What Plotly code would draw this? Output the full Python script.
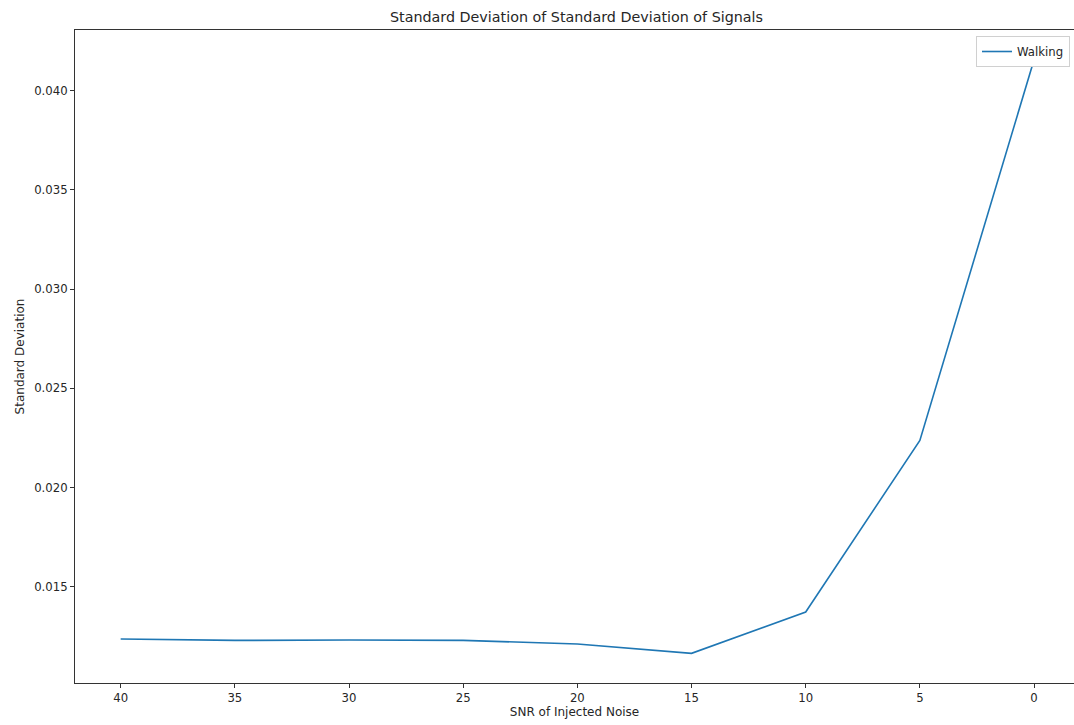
import plotly.graph_objects as go

snr = [40, 35, 30, 25, 20, 15, 10, 5, 0]
walking_std = [0.01238, 0.01231, 0.01233, 0.01231, 0.01213, 0.01166, 0.01374, 0.02238, 0.04155]
y_ticks = [0.015, 0.020, 0.025, 0.030, 0.035, 0.040]
x_ticks = [40, 35, 30, 25, 20, 15, 10, 5, 0]

font = "DejaVu Sans"

fig = go.Figure()
fig.add_trace(go.Scatter(x=snr, y=walking_std, mode="lines", name="Walking",
                         line=dict(color="#1f77b4", width=1.6)))

W, H = 1074, 725
L, T, B = 75, 30, 42
fig.update_layout(
    width=W, height=H,
    margin=dict(l=L, r=0, t=T, b=B),
    paper_bgcolor="white", plot_bgcolor="white",
    font=dict(family=font, size=11.7, color="#262626"),
    title=dict(text="Standard Deviation of Standard Deviation of Signals",
               x=576.5 / W, xanchor="center", y=1 - 17 / H, yanchor="middle",
               font=dict(family=font, size=14.3, color="#262626")),
    showlegend=True,
    legend=dict(x=(1070 - L) / (W - L), y=1 - (36 - T) / (H - T - B),
                xanchor="right", yanchor="top", itemwidth=30,
                bgcolor="white", bordercolor="#d0d0d0", borderwidth=1,
                font=dict(family=font, size=11.7)),
)
fig.update_xaxes(range=[42, -1.75], tickvals=x_ticks, ticktext=[str(v) for v in x_ticks],
                 showgrid=False, zeroline=False, showline=True, linecolor="#333", linewidth=1,
                 mirror=True, ticks="outside", ticklen=4, tickcolor="#333",
                 tickfont=dict(family=font, size=11.7),
                 title=dict(text="SNR of Injected Noise", standoff=3,
                            font=dict(family=font, size=12)),
                 automargin=False)
fig.update_yaxes(range=[0.010166, 0.043045], tickvals=y_ticks,
                 ticktext=[f"{v:.3f}" for v in y_ticks],
                 showgrid=False, zeroline=False, showline=True, linecolor="#333", linewidth=1,
                 ticks="outside", ticklen=4, tickcolor="#333",
                 tickfont=dict(family=font, size=11.7),
                 title=dict(text="Standard Deviation", standoff=6,
                            font=dict(family=font, size=12)),
                 automargin=False)

fig.write_html("out.html", config={"displayModeBar": False},
               post_script="document.body.style.margin='0';document.body.style.overflow='hidden';")
